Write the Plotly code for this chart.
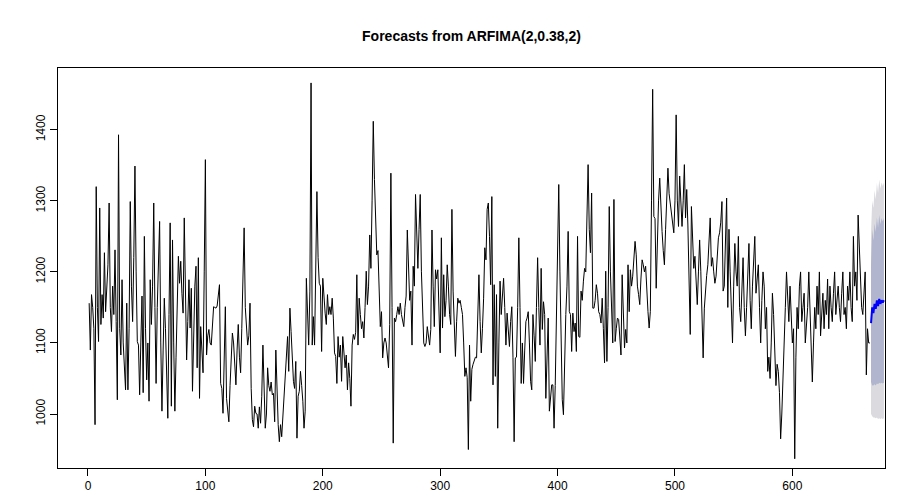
import plotly.graph_objects as go

seg1 = [1156, 1090, 1168, 1150, 1120, 985, 1320, 1150, 1102, 1290, 1126, 1168, 1135, 1227, 1144, 1170, 1210, 1297, 1150, 1116, 1180, 1140, 1231, 1130, 1020, 1393, 1120, 1083, 1189, 1100, 1060, 1034, 1156, 1034, 1120, 1299, 1180, 1130, 1220, 1349, 1200, 1102, 1097, 1027, 1100, 1166]
seg2 = [1030, 1250, 1120, 1048, 1100, 1018, 1189, 1126, 1180, 1297, 1150, 1043, 1150, 1210, 1271, 1100, 1004, 1090, 1163, 1120, 1050, 994, 1140, 1269, 1011, 1245, 1100, 1004, 1080, 1160, 1222, 1184, 1215, 1170, 1142, 1276, 1150, 1076, 1130, 1189, 1121, 1177, 1032, 1120, 1180, 1208]
seg3 = [1065, 1220, 1022, 1123, 1090, 1058, 1200, 1358, 1083, 1110, 1119, 1100, 1097, 1130, 1151, 1150, 1149, 1152, 1170, 1182, 1043, 1036, 1001, 1080, 1151, 1022, 1000, 989, 1040, 1090, 1114, 1100, 1060, 1041, 1090, 1126, 1080, 1058, 1120, 1200, 1262, 1150, 1123, 1097, 1110, 1156, 1036]
seg4 = [992, 982, 1011, 1001, 1000, 980, 1010, 987, 1025, 1097, 1040, 980, 1000, 1065, 1040, 1032, 1045, 1027, 1029, 989, 1090, 1030, 985, 961, 985, 968, 1000, 1018, 1060, 1080, 1109, 1060, 1149, 1116, 1080, 1046, 1036, 1074, 966, 1025, 1032, 1060, 1040, 1018, 980]
seg5 = [1004, 1191, 1150, 1097, 1173, 1466, 1097, 1137, 1097, 1200, 1313, 1220, 1184, 1180, 1088, 1191, 1158, 1142, 1126, 1168, 1140, 1151, 1140, 1163, 1135, 1086, 1081, 1043, 1109, 1080, 1097, 1046, 1109, 1090, 1065, 1083, 1034, 1072, 1050, 1011, 1097, 1112, 1105, 1115, 1196]
seg6 = [1097, 1163, 1140, 1120, 1130, 1107, 1150, 1201, 1154, 1180, 1252, 1205, 1300, 1412, 1330, 1260, 1224, 1230, 1180, 1123, 1144, 1079, 1100, 1107, 1100, 1080, 1065, 1126, 1339, 1150, 959, 1135, 1130, 1140, 1151, 1140, 1156, 1140, 1130, 1123, 1150, 1166, 1259, 1200, 1160, 1173]
seg7 = [1097, 1208, 1180, 1309, 1250, 1205, 1260, 1309, 1201, 1150, 1100, 1095, 1100, 1123, 1110, 1097, 1119, 1259, 1180, 1123, 1203, 1190, 1203, 1150, 1086, 1248, 1121, 1196, 1137, 1160, 1210, 1180, 1140, 1126, 1288, 1173, 1120, 1081, 1130, 1163, 1156, 1160, 1150, 1140, 1100, 1053]
seg8 = [1065, 1051, 950, 1097, 1018, 1063, 1070, 1075, 1080, 1079, 1140, 1196, 1130, 1086, 1120, 1163, 1234, 1217, 1288, 1297, 1250, 1182, 1306, 1041, 1182, 1053, 1168, 980, 1100, 1187, 1140, 1170, 1191, 1150, 1097, 1142, 1120, 1095, 1130, 1151, 1080, 961, 1079, 1080, 1150, 1248]
seg9 = [1150, 1043, 1100, 1043, 1090, 1130, 1135, 1144, 1100, 1046, 1034, 1140, 1110, 1074, 1150, 1220, 1150, 1097, 1205, 1119, 1158, 1140, 1022, 1080, 1135, 1004, 1030, 1041, 1041, 980, 1040, 1120, 1230, 1323, 1200, 1080, 1020, 999, 1080, 1140, 1180, 1257, 1144, 1140, 1088]
seg10 = [1142, 1116, 1128, 1088, 1250, 1109, 1108, 1173, 1160, 1187, 1205, 1200, 1280, 1351, 1260, 1227, 1311, 1149, 1149, 1160, 1182, 1170, 1144, 1140, 1128, 1163, 1120, 1072, 1201, 1074, 1150, 1292, 1200, 1150, 1100, 1302, 1102, 1120, 1135, 1133, 1110, 1083, 1196, 1150, 1093, 1119]
seg11 = [1100, 1210, 1144, 1203, 1180, 1194, 1220, 1243, 1224, 1180, 1168, 1154, 1190, 1217, 1210, 1200, 1208, 1170, 1144, 1121, 1144, 1300, 1457, 1278, 1275, 1177, 1250, 1300, 1332, 1280, 1257, 1230, 1210, 1260, 1320, 1346, 1310, 1295, 1280, 1265, 1255, 1300, 1421, 1300, 1264, 1335, 1290, 1264, 1300, 1351, 1276, 1316, 1266, 1200, 1112, 1292, 1250, 1205, 1222, 1190, 1154, 1200, 1245, 1201, 1144, 1079, 1149, 1180, 1195, 1210, 1240, 1276, 1208, 1220, 1200, 1184, 1194, 1230, 1248, 1255, 1270, 1299, 1173, 1180, 1240, 1304]
seg12 = [1150, 1260, 1200, 1130, 1100, 1180, 1240, 1200, 1180, 1250, 1150, 1130, 1190, 1220, 1150, 1110, 1150,
         1200, 1240, 1160, 1120, 1180, 1230, 1250, 1170, 1190, 1210, 1150, 1100, 1160, 1200, 1180, 1120, 1150, 1060, 1080, 1050,
         1100, 1170, 1140, 1080, 1040, 1070, 1060, 1030, 965, 1000, 1060, 1100, 1150, 1200, 1160, 1130, 1180, 1140, 1100, 1120,
         937, 1080, 1150, 1120, 1180, 1200, 1130, 1150, 1170, 1100, 1120, 1150, 1200, 1140, 1080, 1045, 1100, 1150, 1120, 1180,
         1140, 1200, 1110, 1150, 1170, 1120, 1160, 1140, 1190, 1120, 1180, 1150, 1130, 1170, 1200, 1140, 1160, 1180, 1150, 1130,
         1170, 1200, 1140, 1150, 1120, 1180, 1160, 1200, 1150, 1130, 1250, 1180, 1200, 1160, 1280, 1230, 1170, 1150, 1140, 1180, 1200, 1055, 1120, 1100, 1100]
series = seg1 + seg2 + seg3 + seg4 + seg5 + seg6 + seg7 + seg8 + seg9 + seg10 + seg11 + seg12
t_obs = list(range(1, len(series) + 1))

# forecast (mean and prediction intervals)
fc_mean = [1128, 1150, 1142, 1155, 1148, 1160, 1152, 1162, 1155, 1160, 1157, 1160]
lo80 = [1045, 1040, 1040, 1042, 1040, 1043, 1042, 1044, 1043, 1044, 1043, 1044]
hi80 = [1211, 1260, 1244, 1268, 1256, 1277, 1262, 1280, 1267, 1276, 1271, 1276]
lo95 = [1000, 997, 995, 995, 994, 995, 993, 994, 993, 994, 993, 994]
hi95 = [1255, 1300, 1290, 1315, 1302, 1325, 1311, 1330, 1317, 1326, 1321, 1326]
t_fc = list(range(len(series) + 1, len(series) + 1 + len(fc_mean)))

x_ticks = [0, 100, 200, 300, 400, 500, 600]
y_ticks = [1000, 1100, 1200, 1300, 1400]

fig = go.Figure()
fig.add_trace(go.Scatter(x=t_fc + t_fc[::-1], y=hi95 + lo95[::-1], fill="toself",
                         fillcolor="#DBDBDF", line=dict(width=0), mode="lines", hoverinfo="skip"))
fig.add_trace(go.Scatter(x=t_fc + t_fc[::-1], y=hi80 + lo80[::-1], fill="toself",
                         fillcolor="#B1B5CE", line=dict(width=0), mode="lines", hoverinfo="skip"))
fig.add_trace(go.Scatter(x=t_obs, y=series, mode="lines", line=dict(color="black", width=1)))
fig.add_trace(go.Scatter(x=t_fc, y=fc_mean, mode="lines", line=dict(color="#0000FF", width=2)))

font = "Liberation Sans, Arial, Helvetica, sans-serif"
fig.update_layout(
    width=897, height=504,
    margin=dict(l=50, r=20, t=60, b=44),
    paper_bgcolor="white", plot_bgcolor="white",
    showlegend=False,
    font=dict(family=font, size=12, color="black"),
    title=dict(text="<b>Forecasts from ARFIMA(2,0.38,2)</b>", x=0.5, xref="paper",
               y=1 - 28 / 504, yref="container", yanchor="middle",
               font=dict(family=font, size=14, color="black")),
)
fig.update_xaxes(range=[-25.55, 678.9], tickvals=x_ticks, ticks="outside", ticklen=7,
                 tickcolor="black", showline=True, linecolor="black", linewidth=1, mirror=True,
                 showgrid=False, zeroline=False)
fig.update_yaxes(range=[924, 1487], tickvals=y_ticks, ticks="outside", ticklen=7, tickangle=-90,
                 tickcolor="black", showline=True, linecolor="black", linewidth=1, mirror=True,
                 showgrid=False, zeroline=False)
fig.write_html("out.html", config={"displayModeBar": False})
